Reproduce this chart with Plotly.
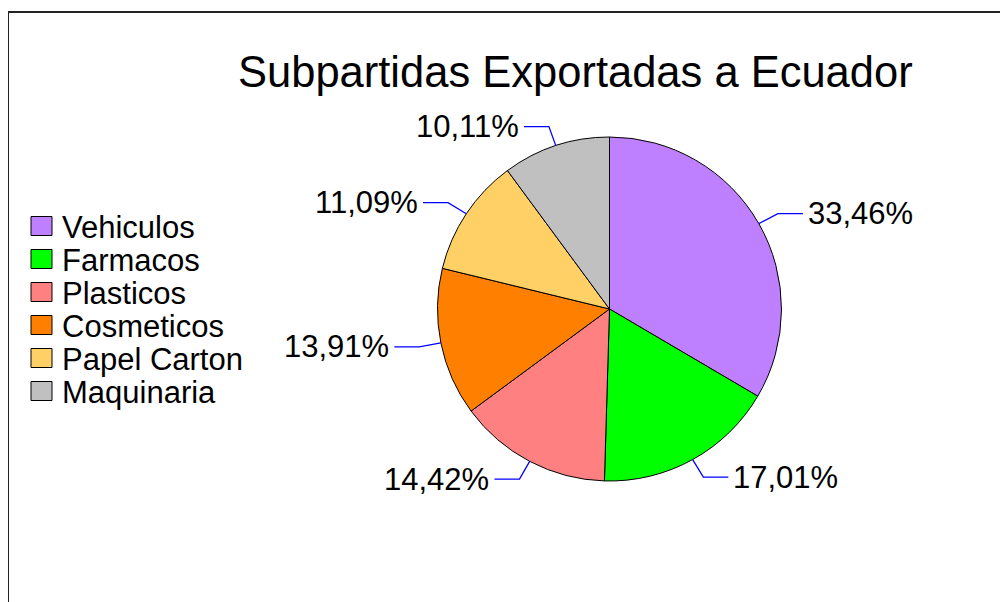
import numpy as np
import plotly.graph_objects as go

# ---- data ----
categories = ["Vehiculos", "Farmacos", "Plasticos", "Cosmeticos", "Papel Carton", "Maquinaria"]
shares = [33.46, 17.01, 14.42, 13.91, 11.09, 10.11]
colors = ["#BF80FF", "#00FF00", "#FF8080", "#FF8000", "#FFD066", "#C0C0C0"]
title_text = "Subpartidas Exportadas a Ecuador"

# ---- layout constants (pixels, page coordinates) ----
W, H = 1008, 602
OFF = 8  # page body margin
CX, CY, R = 609.5, 309.0, 172.0
FONT = "Liberation Sans, Arial, sans-serif"


def px(x):
    return (x - OFF) / W


def py(y):
    return 1 - (y - OFF) / H


fig = go.Figure()
fig.add_trace(go.Pie(
    labels=categories,
    values=shares,
    marker=dict(colors=colors, line=dict(color="#000000", width=1)),
    sort=False,
    direction="clockwise",
    rotation=0,
    textinfo="none",
    hoverinfo="label+percent",
    showlegend=False,
    domain=dict(x=[px(CX - R), px(CX + R)], y=[py(CY + R), py(CY - R)]),
))

shapes = []
annotations = []

# frame
shapes.append(dict(type="rect", xref="paper", yref="paper",
                   x0=px(8), x1=px(W + 20), y0=py(H + 20), y1=py(12),
                   line=dict(color="#222222", width=2), fillcolor="rgba(0,0,0,0)", layer="below"))

# percentage labels with leader lines computed from the data
total = sum(shares)
cum = 0.0
for v in shares:
    mid = (cum + v / 2) / total * 2 * np.pi
    cum += v
    ux, uy = np.sin(mid), -np.cos(mid)
    ex, ey = CX + R * ux, CY + R * uy
    bx, by = CX + (R + 22) * ux, CY + (R + 20) * uy
    side = 1 if ux >= 0 else -1
    hx = bx + side * 25
    shapes.append(dict(type="path", xref="paper", yref="paper",
                       path=f"M {px(ex)},{py(ey)} L {px(bx)},{py(by)} L {px(hx)},{py(by)}",
                       line=dict(color="#0000FF", width=1.3)))
    label = f"{v:.2f}%".replace(".", ",")
    annotations.append(dict(x=px(hx + side * 3), y=py(by), xref="paper", yref="paper",
                            text=label, showarrow=False,
                            xanchor="left" if side > 0 else "right", yanchor="middle",
                            font=dict(family=FONT, size=31, color="#000000")))

# legend (manual, large square swatches)
for i, (cat, col) in enumerate(zip(categories, colors)):
    yc = 226 + i * 33
    shapes.append(dict(type="rect", xref="paper", yref="paper",
                       x0=px(31), x1=px(52), y0=py(yc + 9.5), y1=py(yc - 9.5),
                       line=dict(color="#000000", width=1), fillcolor=col))
    annotations.append(dict(x=px(60), y=py(yc + 1), xref="paper", yref="paper",
                            text=cat, showarrow=False, xanchor="left", yanchor="middle",
                            font=dict(family=FONT, size=31, color="#000000")))

# title
annotations.append(dict(x=px(575), y=py(72), xref="paper", yref="paper",
                        text=title_text, showarrow=False, xanchor="center", yanchor="middle",
                        font=dict(family=FONT, size=43.5, color="#000000")))

fig.update_layout(
    width=W, height=H,
    margin=dict(l=0, r=0, t=0, b=0),
    paper_bgcolor="#FFFFFF", plot_bgcolor="#FFFFFF",
    shapes=shapes, annotations=annotations,
    showlegend=False,
)

fig.write_html("out.html")
